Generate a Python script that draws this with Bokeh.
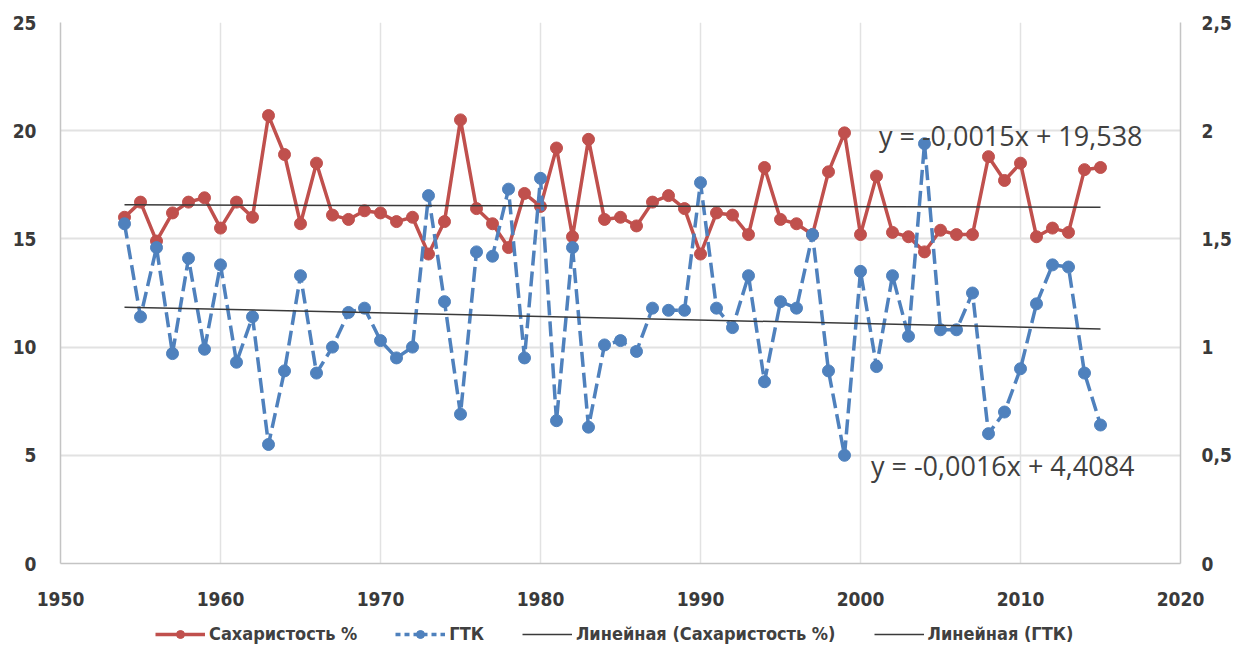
import numpy as np
from bokeh.plotting import figure
from bokeh.layouts import column
from bokeh.models import Range1d, LinearAxis, Legend, LegendItem, Label, FixedTicker
from bokeh.embed import file_html
from bokeh.resources import INLINE

years = list(range(1954, 2016))
sugar = [16.0, 16.7, 14.9, 16.2, 16.7, 16.9, 15.5, 16.7, 16.0, 20.7,
         18.9, 15.7, 18.5, 16.1, 15.9, 16.3, 16.2, 15.8, 16.0, 14.3,
         15.8, 20.5, 16.4, 15.7, 14.6, 17.1, 16.5, 19.2, 15.1, 19.6,
         15.9, 16.0, 15.6, 16.7, 17.0, 16.4, 14.3, 16.2, 16.1, 15.2,
         18.3, 15.9, 15.7, 15.2, 18.1, 19.9, 15.2, 17.9, 15.3, 15.1,
         14.4, 15.4, 15.2, 15.2, 18.8, 17.7, 18.5, 15.1, 15.5, 15.3,
         18.2, 18.3]
gtk = [1.57, 1.14, 1.46, 0.97, 1.41, 0.99, 1.38, 0.93, 1.14, 0.55,
       0.89, 1.33, 0.88, 1.00, 1.16, 1.18, 1.03, 0.95, 1.00, 1.70,
       1.21, 0.69, 1.44, 1.42, 1.73, 0.95, 1.78, 0.66, 1.46, 0.63,
       1.01, 1.03, 0.98, 1.18, 1.17, 1.17, 1.76, 1.18, 1.09, 1.33,
       0.84, 1.21, 1.18, 1.52, 0.89, 0.50, 1.35, 0.91, 1.33, 1.05,
       1.94, 1.08, 1.08, 1.25, 0.60, 0.70, 0.90, 1.20, 1.38, 1.37,
       0.88, 0.64]

eq_sugar = "y = -0,0015x + 19,538"
eq_gtk = "y = -0,0016x + 4,4084"
series_labels = ["Сахаристость %", "ГТК", "Линейная (Сахаристость %)", "Линейная (ГТК)"]
x_ticks = [1950, 1960, 1970, 1980, 1990, 2000, 2010, 2020]
left_ticks = [0, 5, 10, 15, 20, 25]
right_ticks = [0, 0.5, 1, 1.5, 2, 2.5]
right_tick_labels = ["0", "0,5", "1", "1,5", "2", "2,5"]

RED = "#C0504D"
BLUE = "#4F81BD"
TREND = "#3a3a3a"
TXT = "#404040"
TICK_FONT = "DejaVu Sans Condensed"

p = figure(width=1237, height=616, output_backend="svg", toolbar_location=None,
           x_range=Range1d(1950, 2020), y_range=Range1d(0, 25),
           min_border_left=60, min_border_right=57, min_border_top=22,
           min_border_bottom=53)
p.extra_y_ranges = {"r": Range1d(0, 2.5)}
p.outline_line_color = None
p.background_fill_color = "white"

# axes
p.xaxis.ticker = FixedTicker(ticks=x_ticks)
p.yaxis.ticker = FixedTicker(ticks=left_ticks)
raxis = LinearAxis(y_range_name="r", ticker=FixedTicker(ticks=right_ticks))
raxis.major_label_overrides = {t: l for t, l in zip(right_ticks, right_tick_labels)}
p.add_layout(raxis, "right")

for ax in [p.xaxis[0], p.yaxis[0], raxis]:
    ax.axis_line_color = "#c4c4c4"
    ax.axis_line_width = 1.5
    ax.major_tick_line_color = None
    ax.minor_tick_line_color = None
    ax.major_tick_in = 0
    ax.major_tick_out = 0
    ax.minor_tick_in = 0
    ax.minor_tick_out = 0
    ax.major_label_text_font = TICK_FONT
    ax.major_label_text_font_style = "bold"
    ax.major_label_text_font_size = "19px"
    ax.major_label_text_color = "#3a3a3a"
p.xaxis.major_label_standoff = 28
p.yaxis.major_label_standoff = 24
raxis.major_label_standoff = 21

p.xgrid.ticker = FixedTicker(ticks=x_ticks)
p.ygrid.ticker = FixedTicker(ticks=left_ticks)
p.xgrid.grid_line_color = "#e2e2e2"
p.ygrid.grid_line_color = "#e2e2e2"
p.xgrid.grid_line_width = 1.5
p.ygrid.grid_line_width = 2

# series
p.line(years, sugar, line_color=RED, line_width=3.5)
p.scatter(years, sugar, size=12, fill_color=RED, line_color=RED)
p.line(years, gtk, line_color=BLUE, line_width=3.5, line_dash="15 6", y_range_name="r")
p.scatter(years, gtk, size=12, fill_color=BLUE, line_color=BLUE, y_range_name="r")

# linear trends (least squares)
yrs = np.array(years, dtype=float)
ks, bs = np.polyfit(yrs, np.array(sugar), 1)
kg, bg = np.polyfit(yrs, np.array(gtk), 1)
xt = [yrs[0], yrs[-1]]
p.line(xt, [ks * x + bs for x in xt], line_color=TREND, line_width=1.5)
p.line(xt, [kg * x + bg for x in xt], line_color=TREND, line_width=1.5, y_range_name="r")

p.add_layout(Label(x=2001.15, y=19.8, text=eq_sugar, text_font="Open Sans",
                   text_font_size="27px", text_color=TXT, text_baseline="middle"))
p.add_layout(Label(x=2000.65, y=4.55, text=eq_gtk, text_font="Open Sans",
                   text_font_size="27px", text_color=TXT, text_baseline="middle"))

# legend strip below the chart (dummy renderers outside its ranges)
lg = figure(width=1237, height=38, output_backend="svg", toolbar_location=None,
            x_range=Range1d(0, 1), y_range=Range1d(0, 1),
            x_axis_type=None, y_axis_type=None, min_border=0)
lg.outline_line_color = None
lg.xgrid.visible = False
lg.ygrid.visible = False
off = [5, 6]
d1 = lg.line(off, off, line_color=RED, line_width=3.5)
d2 = lg.scatter(off, off, size=12, fill_color=RED, line_color=RED)
d3 = lg.line(off, off, line_color=BLUE, line_width=3.5, line_dash="5 4")
d4 = lg.scatter(off, off, size=12, fill_color=BLUE, line_color=BLUE)
d5 = lg.line(off, off, line_color=TREND, line_width=1.5)
d6 = lg.line(off, off, line_color=TREND, line_width=1.5)

legend = Legend(items=[
    LegendItem(label=series_labels[0], renderers=[d1, d2]),
    LegendItem(label=series_labels[1], renderers=[d3, d4]),
    LegendItem(label=series_labels[2], renderers=[d5]),
    LegendItem(label=series_labels[3], renderers=[d6]),
], orientation="horizontal", location=(95, 10), border_line_color=None,
    background_fill_alpha=0, padding=0, margin=0, spacing=38, glyph_width=50,
    label_standoff=4, label_text_font=TICK_FONT, label_text_font_style="bold",
    label_text_font_size="18px", label_text_color=TXT)
lg.add_layout(legend)

layout = column(p, lg, spacing=0)
open("out.html", "w").write(file_html(layout, INLINE))
